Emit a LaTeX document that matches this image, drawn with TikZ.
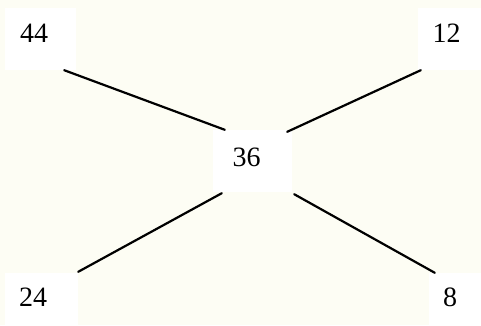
\documentclass[tikz,border=0pt]{standalone}
\usepackage{fontspec}
\setmainfont{Liberation Serif}
\usepackage{xcolor}
\definecolor{paperbg}{RGB}{253,253,244}

\begin{document}
\begin{tikzpicture}[x=1pt, y=-1pt,
    box/.style={fill=white, inner sep=0pt},
    num/.style={inner sep=0pt, font=\fontsize{28}{32}\selectfont},
    link/.style={line width=2.2pt, line cap=round}]
    \fill[paperbg] (0,0) rectangle (481,325);
    \useasboundingbox (0,0) rectangle (481,325);

    % White boxes
    \node[box, minimum width=71pt, minimum height=62pt] (b44) at (40.5,39) {};
    \node[box, minimum width=79pt, minimum height=62pt] (b36) at (252.5,161) {};
    \node[box, minimum width=63pt, minimum height=62pt] (b12) at (449.5,39) {};
    \node[box, minimum width=73pt, minimum height=52pt] (b24) at (41.5,299) {};
    \node[box, minimum width=52pt, minimum height=52pt] (b8) at (455,299) {};

    % Numbers
    \node[num] (t44) at (34,33) {44};
    \node[num] (t36) at (246.5,157.5) {36};
    \node[num] (t12) at (446.5,33.5) {12};
    \node[num] (t24) at (33,297.5) {24};
    \node[num] (t8) at (450,297.5) {8};

    % Links
    \draw[link] ([xshift=-12pt]b44.south east) -- ([xshift=12pt]b36.north west);
    \draw[link] ([xshift=3pt]b12.south west) -- ([xshift=-5pt, yshift=-2pt]b36.north east);
    \draw[link] ([yshift=1pt]b24.north east) -- ([xshift=9pt, yshift=-1pt]b36.south west);
    \draw[link] ([xshift=2pt, yshift=-2pt]b36.south east) -- ([xshift=6pt]b8.north west);
\end{tikzpicture}
\end{document}
